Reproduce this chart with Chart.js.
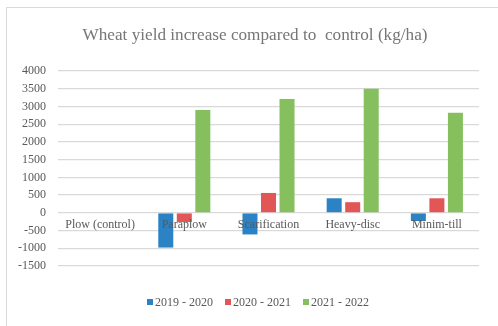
<!DOCTYPE html>
<html>
<head>
<meta charset="utf-8">
<script src="https://cdn.jsdelivr.net/npm/chart.js@4.4.0/dist/chart.umd.min.js"></script>
<style>
  html, body { margin: 0; padding: 0; background: #fff; }
  #wrap { width: 498px; height: 326px; position: relative; }
</style>
</head>
<body>
<div id="wrap"><canvas id="yield-chart" width="498" height="326"></canvas></div>
<script>
// chart data
const categories = ["Plow (control)", "Paraplow", "Scarification", "Heavy-disc", "Minim-till"];
const seriesNames = ["2019 - 2020", "2020 - 2021", "2021 - 2022"];
const season1920 = [0, -980, -610, 410, -230];
const season2021 = [0, -260, 560, 300, 410];
const season2122 = [0, 2900, 3210, 3500, 2820];
const seriesColors = ["#2B83C5", "#E25656", "#86BF5E"];
const yTicks = { min: -1500, max: 4000, step: 500 };
const chartTitle = "Wheat yield increase compared to  control (kg/ha)";

const textGray = "#595959";
const serif = "'Liberation Serif', 'Times New Roman', serif";

// light frame around the chart + the title, centred on the frame
const framePlugin = {
  id: "frame",
  beforeDraw(chart) {
    const ctx = chart.ctx;
    ctx.save();
    ctx.strokeStyle = "#d9d9d9";
    ctx.lineWidth = 1;
    ctx.strokeRect(6.5, 7.5, chart.width + 10, chart.height + 10);
    ctx.font = "17.2px " + serif;
    ctx.fillStyle = "#767676";
    ctx.textAlign = "center";
    ctx.textBaseline = "middle";
    ctx.fillText(chartTitle, 255, 35);
    ctx.restore();
  },
};

// category names sit just under the zero line, over the bars
const categoryLabels = {
  id: "categoryLabels",
  afterDatasetsDraw(chart) {
    const ctx = chart.ctx;
    const x = chart.scales.x;
    const y = chart.scales.y;
    const zero = y.getPixelForValue(0);
    ctx.save();
    ctx.font = "12px " + serif;
    ctx.fillStyle = textGray;
    ctx.textAlign = "center";
    ctx.textBaseline = "middle";
    categories.forEach((name, i) => {
      ctx.fillText(name, x.getPixelForValue(i), zero + 12);
    });
    ctx.restore();
  },
};

// office-style legend: small square, name right next to it
const bottomLegend = {
  id: "bottomLegend",
  afterDraw(chart) {
    const ctx = chart.ctx;
    const startX = 147;
    const step = 78;
    const cy = 302;
    ctx.save();
    ctx.font = "12px " + serif;
    ctx.textBaseline = "middle";
    ctx.textAlign = "left";
    seriesNames.forEach((name, i) => {
      const bx = startX + i * step;
      ctx.fillStyle = seriesColors[i];
      ctx.fillRect(bx, cy - 3, 6, 6);
      ctx.fillStyle = textGray;
      ctx.fillText(name, bx + 8, cy + 1);
    });
    ctx.restore();
  },
};

const seriesData = [season1920, season2021, season2122];

new Chart(document.getElementById("yield-chart").getContext("2d"), {
  type: "bar",
  data: {
    labels: categories,
    datasets: seriesNames.map((name, i) => ({
      label: name,
      data: seriesData[i],
      backgroundColor: seriesColors[i],
      borderWidth: 0,
    })),
  },
  options: {
    responsive: false,
    animation: false,
    devicePixelRatio: 1,
    datasets: {
      bar: { categoryPercentage: 0.66, barPercentage: 0.81 },
    },
    layout: { padding: { left: 6, right: 19, top: 71, bottom: 39 } },
    plugins: {
      title: { display: false },
      legend: { display: false },
      tooltip: { enabled: false },
    },
    scales: {
      x: {
        border: { display: false },
        grid: { display: false },
        ticks: { display: false },
        afterFit(scale) {
          scale.height = 21;
        },
      },
      y: {
        min: yTicks.min,
        max: yTicks.max,
        border: { display: false },
        grid: { color: "#d9d9d9", lineWidth: 1.2, drawTicks: false },
        ticks: {
          stepSize: yTicks.step,
          color: textGray,
          font: { family: serif, size: 12 },
          padding: 12,
          callback: (v) => String(v),
        },
      },
    },
  },
  plugins: [framePlugin, categoryLabels, bottomLegend],
});
</script>
</body>
</html>
